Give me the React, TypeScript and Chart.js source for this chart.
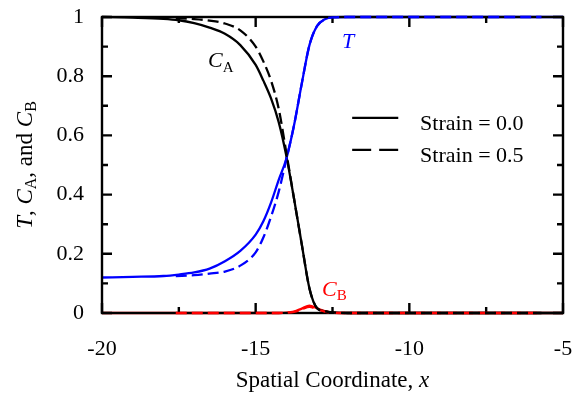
import { useEffect, useRef } from "react";
import { Chart, registerables } from "chart.js";
Chart.register(...registerables);

const FONT = "'Liberation Serif', 'Times New Roman', serif";

// Strain = 0.0 (solid)
const xSolid = [-20, -19, -18, -17.5, -17, -16.5, -16, -15.5, -15, -14.75, -14.5, -14.25, -14, -13.75, -13.5, -13.25, -13, -12.75, -12.5, -12, -11, -10, -8, -6, -5];
const caSolid = [1.0, 0.998, 0.994, 0.989, 0.979, 0.964, 0.943, 0.905, 0.838, 0.785, 0.725, 0.645, 0.53, 0.385, 0.232, 0.083, 0.016, 0.006, 0.002, 0, 0, 0, 0, 0, 0];
const tSolid = [0.12, 0.122, 0.125, 0.13, 0.137, 0.15, 0.175, 0.21, 0.265, 0.31, 0.373, 0.45, 0.522, 0.635, 0.775, 0.905, 0.97, 0.992, 0.999, 1, 1, 1, 1, 1, 1];
const cbSolid = [0, 0, 0, 0, 0, 0, 0, 0, 0, 0, 0, 0, 0.001, 0.005, 0.015, 0.025, 0.016, 0.006, 0.001, 0, 0, 0, 0, 0, 0];

// Strain = 0.5 (dashed)
const xDashed = [-17.6, -17, -16.5, -16, -15.5, -15, -14.75, -14.5, -14.25, -14, -13.75, -13.5, -13.25, -13, -12.75, -12.5, -12, -11, -10, -8, -5.7];
const caDashed = [0.996, 0.993, 0.988, 0.978, 0.955, 0.9, 0.85, 0.785, 0.69, 0.54, 0.385, 0.232, 0.083, 0.016, 0.006, 0.002, 0, 0, 0, 0, 0];
const tDashed = [0.125, 0.128, 0.133, 0.14, 0.16, 0.205, 0.255, 0.325, 0.41, 0.52, 0.635, 0.775, 0.905, 0.97, 0.992, 0.999, 1, 1, 1, 1, 1];
const cbDashed = [0, 0, 0, 0, 0, 0, 0, 0, 0, 0.001, 0.004, 0.012, 0.021, 0.013, 0.005, 0.001, 0, 0, 0, 0, 0];

const xMajor = [-20, -15, -10, -5];
const xMinor = [-17.5, -12.5, -7.5];
const yMajor = [0, 0.2, 0.4, 0.6, 0.8, 1];
const yMinor = [0.1, 0.3, 0.5, 0.7, 0.9];

const legendRows = [
  { label: "Strain = 0.0", dash: [] as number[], y: 0.659 },
  { label: "Strain = 0.5", dash: [19, 8], y: 0.551 },
];
const legendLineX = [-11.86, -10.36];
const legendTextX = -9.65;

type Seg = { t: string; italic?: boolean; size: number; dy?: number };

function drawRich(ctx: CanvasRenderingContext2D, segs: Seg[], x: number, y: number, align: "left" | "center", color: string) {
  ctx.save();
  ctx.fillStyle = color;
  ctx.textBaseline = "alphabetic";
  ctx.textAlign = "left";
  const widths = segs.map((s) => {
    ctx.font = `${s.italic ? "italic " : ""}${s.size}px ${FONT}`;
    return ctx.measureText(s.t).width;
  });
  const total = widths.reduce((a, b) => a + b, 0);
  let cx = align === "center" ? x - total / 2 : x;
  segs.forEach((s, i) => {
    ctx.font = `${s.italic ? "italic " : ""}${s.size}px ${FONT}`;
    ctx.fillText(s.t, cx, y + (s.dy || 0));
    cx += widths[i];
  });
  ctx.restore();
}

const pts = (xs: number[], ys: number[]) => xs.map((x, i) => ({ x, y: ys[i] }));

export default function App() {
  const ref = useRef<HTMLCanvasElement>(null);
  useEffect(() => {
    document.body.style.margin = "0";
    const frame = {
      id: "frame",
      afterDatasetDraw(chart: any, args: any) {
        if (args.index !== 3) return;
        const { ctx, chartArea: a, scales } = chart;
        const xs = scales.x, ys = scales.y;
        ctx.save();
        ctx.strokeStyle = "#000";
        ctx.lineWidth = 2.4;
        ctx.beginPath();
        const tick = (len: number, isX: boolean, v: number) => {
          if (isX) {
            const p = xs.getPixelForValue(v);
            ctx.moveTo(p, a.bottom); ctx.lineTo(p, a.bottom - len);
            ctx.moveTo(p, a.top); ctx.lineTo(p, a.top + len);
          } else {
            const p = ys.getPixelForValue(v);
            ctx.moveTo(a.left, p); ctx.lineTo(a.left + len, p);
            ctx.moveTo(a.right, p); ctx.lineTo(a.right - len, p);
          }
        };
        xMajor.forEach((v) => tick(10, true, v));
        xMinor.forEach((v) => tick(6, true, v));
        yMajor.forEach((v) => tick(10, false, v));
        yMinor.forEach((v) => tick(6, false, v));
        ctx.stroke();
        ctx.strokeRect(a.left, a.top, a.right - a.left, a.bottom - a.top);
        ctx.restore();
      },
      afterDraw(chart: any) {
        const { ctx, chartArea: a, scales } = chart;
        const xs = scales.x, ys = scales.y;
        // x title
        drawRich(ctx, [
          { t: "Spatial Coordinate, ", size: 23 },
          { t: "x", italic: true, size: 23 },
        ], (a.left + a.right) / 2, 387, "center", "#000");
        // y title
        ctx.save();
        ctx.translate(32, (a.top + a.bottom) / 2);
        ctx.rotate(-Math.PI / 2);
        drawRich(ctx, [
          { t: "T", italic: true, size: 23 },
          { t: ", ", size: 23 },
          { t: "C", italic: true, size: 23 },
          { t: "A", size: 16, dy: 4 },
          { t: ", and ", size: 23 },
          { t: "C", italic: true, size: 23 },
          { t: "B", size: 16, dy: 4 },
        ], 0, 0, "center", "#000");
        ctx.restore();
        // curve labels
        drawRich(ctx, [
          { t: "C", italic: true, size: 22 },
          { t: "A", size: 15, dy: 5 },
        ], xs.getPixelForValue(-16.55), ys.getPixelForValue(0.831), "left", "#000");
        drawRich(ctx, [{ t: "T", italic: true, size: 22 }], xs.getPixelForValue(-12.19), ys.getPixelForValue(0.895), "left", "#0000ff");
        drawRich(ctx, [
          { t: "C", italic: true, size: 22 },
          { t: "B", size: 15, dy: 4 },
        ], xs.getPixelForValue(-12.84), ys.getPixelForValue(0.057), "left", "#ff0000");
        // legend
        ctx.save();
        legendRows.forEach((r) => {
          const py = ys.getPixelForValue(r.y);
          ctx.strokeStyle = "#000";
          ctx.lineWidth = 2.3;
          ctx.setLineDash(r.dash);
          ctx.beginPath();
          ctx.moveTo(xs.getPixelForValue(legendLineX[0]), py);
          ctx.lineTo(xs.getPixelForValue(legendLineX[1]), py);
          ctx.stroke();
          ctx.setLineDash([]);
          ctx.fillStyle = "#000";
          ctx.font = `22px ${FONT}`;
          ctx.textAlign = "left";
          ctx.textBaseline = "alphabetic";
          ctx.fillText(r.label, xs.getPixelForValue(legendTextX), py + 11.7);
        });
        ctx.restore();
      },
    };

    const common = { pointRadius: 0, borderWidth: 2.3, fill: false, cubicInterpolationMode: "monotone" as const, clip: false as any };
    const chart = new Chart(ref.current!, {
      type: "line",
      data: {
        datasets: [
          { ...common, label: "CA 0.5", data: pts(xDashed, caDashed), borderColor: "#000", borderDash: [11, 5] },
          { ...common, label: "T 0.5", data: pts(xDashed, tDashed), borderColor: "#0000ff", borderDash: [11, 5] },
          { ...common, label: "CB 0.5", data: pts(xDashed, cbDashed), borderColor: "#ff0000", borderDash: [11, 5] },
          { ...common, label: "CA 0.0", data: pts(xSolid, caSolid), borderColor: "#000" },
          { ...common, label: "T 0.0", data: pts(xSolid, tSolid), borderColor: "#0000ff" },
          { ...common, label: "CB 0.0", data: pts(xSolid, cbSolid), borderColor: "#ff0000" },
        ],
      },
      options: {
        responsive: false,
        animation: false,
        layout: { padding: { top: 17, right: 11, left: 0, bottom: 0 } },
        plugins: { legend: { display: false }, tooltip: { enabled: false } },
        scales: {
          x: {
            type: "linear",
            min: -20,
            max: -5,
            ticks: { stepSize: 5, color: "#000", font: { family: FONT, size: 22 }, padding: 23, maxRotation: 0, callback: (v: any) => String(v) },
            grid: { display: false, drawTicks: false },
            border: { display: false },
            afterFit: (s: any) => { s.height = 80; s.paddingLeft = 0; s.paddingRight = 0; },
          },
          y: {
            type: "linear",
            min: 0,
            max: 1,
            ticks: { stepSize: 0.2, color: "#000", font: { family: FONT, size: 22 }, padding: 18, callback: (v: any) => String(Math.round(Number(v) * 10) / 10) },
            grid: { display: false, drawTicks: false },
            border: { display: false },
            afterFit: (s: any) => { s.width = 102; s.paddingTop = 0; s.paddingBottom = 0; },
          },
        },
      },
      plugins: [frame],
    });
    return () => chart.destroy();
  }, []);
  return <canvas ref={ref} width={574} height={393} style={{ display: "block" }} />;
}
